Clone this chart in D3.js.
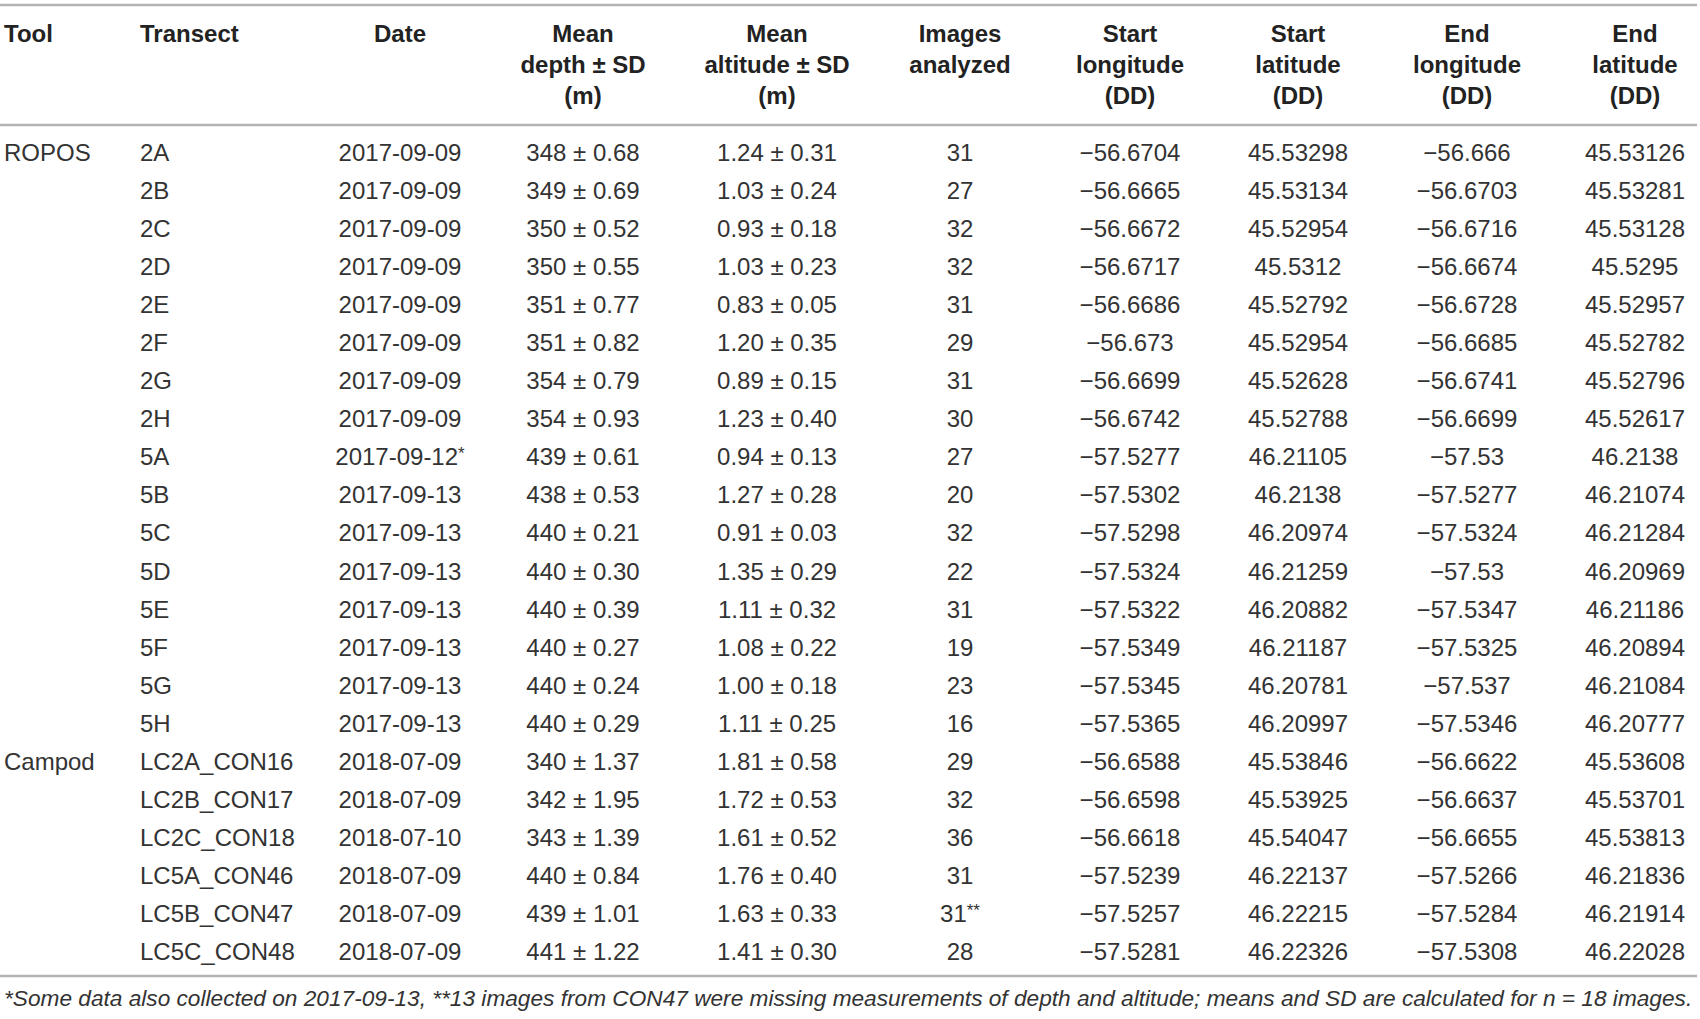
<!DOCTYPE html>
<html>
<head>
<meta charset="utf-8">
<script src="https://cdn.jsdelivr.net/npm/d3@7"></script>
<style>
  html, body { margin: 0; padding: 0; background: #fff; }
  svg { display: block; }
</style>
</head>
<body>
<div id="table"></div>
<script>
// data, one array per column
const tools = ["ROPOS", "", "", "", "", "", "", "", "", "", "", "", "", "", "", "",
               "Campod", "", "", "", "", ""];
const transects = ["2A", "2B", "2C", "2D", "2E", "2F", "2G", "2H",
                   "5A", "5B", "5C", "5D", "5E", "5F", "5G", "5H",
                   "LC2A_CON16", "LC2B_CON17", "LC2C_CON18", "LC5A_CON46", "LC5B_CON47", "LC5C_CON48"];
const dates = ["2017-09-09", "2017-09-09", "2017-09-09", "2017-09-09", "2017-09-09", "2017-09-09",
               "2017-09-09", "2017-09-09", "2017-09-12*", "2017-09-13", "2017-09-13", "2017-09-13",
               "2017-09-13", "2017-09-13", "2017-09-13", "2017-09-13",
               "2018-07-09", "2018-07-09", "2018-07-10", "2018-07-09", "2018-07-09", "2018-07-09"];
const depthMean = [348, 349, 350, 350, 351, 351, 354, 354, 439, 438, 440, 440, 440, 440, 440, 440,
                   340, 342, 343, 440, 439, 441];
const depthSD = ["0.68", "0.69", "0.52", "0.55", "0.77", "0.82", "0.79", "0.93",
                 "0.61", "0.53", "0.21", "0.30", "0.39", "0.27", "0.24", "0.29",
                 "1.37", "1.95", "1.39", "0.84", "1.01", "1.22"];
const altMean = ["1.24", "1.03", "0.93", "1.03", "0.83", "1.20", "0.89", "1.23",
                 "0.94", "1.27", "0.91", "1.35", "1.11", "1.08", "1.00", "1.11",
                 "1.81", "1.72", "1.61", "1.76", "1.63", "1.41"];
const altSD = ["0.31", "0.24", "0.18", "0.23", "0.05", "0.35", "0.15", "0.40",
               "0.13", "0.28", "0.03", "0.29", "0.32", "0.22", "0.18", "0.25",
               "0.58", "0.53", "0.52", "0.40", "0.33", "0.30"];
const images = ["31", "27", "32", "32", "31", "29", "31", "30", "27", "20", "32", "22", "31", "19", "23", "16",
                "29", "32", "36", "31", "31**", "28"];
const startLon = ["56.6704", "56.6665", "56.6672", "56.6717", "56.6686", "56.673", "56.6699", "56.6742",
                  "57.5277", "57.5302", "57.5298", "57.5324", "57.5322", "57.5349", "57.5345", "57.5365",
                  "56.6588", "56.6598", "56.6618", "57.5239", "57.5257", "57.5281"];
const startLat = ["45.53298", "45.53134", "45.52954", "45.5312", "45.52792", "45.52954", "45.52628", "45.52788",
                  "46.21105", "46.2138", "46.20974", "46.21259", "46.20882", "46.21187", "46.20781", "46.20997",
                  "45.53846", "45.53925", "45.54047", "46.22137", "46.22215", "46.22326"];
const endLon = ["56.666", "56.6703", "56.6716", "56.6674", "56.6728", "56.6685", "56.6741", "56.6699",
                "57.53", "57.5277", "57.5324", "57.53", "57.5347", "57.5325", "57.537", "57.5346",
                "56.6622", "56.6637", "56.6655", "57.5266", "57.5284", "57.5308"];
const endLat = ["45.53126", "45.53281", "45.53128", "45.5295", "45.52957", "45.52782", "45.52796", "45.52617",
                "46.2138", "46.21074", "46.21284", "46.20969", "46.21186", "46.20894", "46.21084", "46.20777",
                "45.53608", "45.53701", "45.53813", "46.21836", "46.21914", "46.22028"];

const headers = [
  ["Tool"], ["Transect"], ["Date"],
  ["Mean", "depth \u00b1 SD", "(m)"],
  ["Mean", "altitude \u00b1 SD", "(m)"],
  ["Images", "analyzed"],
  ["Start", "longitude", "(DD)"],
  ["Start", "latitude", "(DD)"],
  ["End", "longitude", "(DD)"],
  ["End", "latitude", "(DD)"]
];
const footnote = "*Some data also collected on 2017-09-13, **13 images from CON47 were missing measurements of depth and altitude; means and SD are calculated for n = 18 images.";

// layout
const width = 1700;
const height = 1019;
const fontFamily = "'Liberation Sans', Arial, Helvetica, sans-serif";

const svg = d3.select("#table")
  .append("svg")
  .attr("width", width)
  .attr("height", height)
  .style("font-family", fontFamily);

// column x: position + anchor
const colX = [4, 140, 400, 583, 777, 960, 1130, 1298, 1467, 1635];
const colAnchor = ["start", "start", "middle", "middle", "middle", "middle", "middle", "middle", "middle", "middle"];

const y = d3.scalePoint()
  .domain(d3.range(transects.length))
  .range([153, 952]);

const minus = s => "\u2212" + s;
const rows = transects.map((t, i) => [
  tools[i], t, dates[i],
  depthMean[i] + " \u00b1 " + depthSD[i],
  altMean[i] + " \u00b1 " + altSD[i],
  images[i],
  minus(startLon[i]), startLat[i], minus(endLon[i]), endLat[i]
]);

// rules
const rules = [5, 125, 976];
svg.selectAll(".rule")
  .data(rules)
  .enter()
  .append("line")
  .attr("class", "rule")
  .attr("x1", 0)
  .attr("x2", 1697)
  .attr("y1", d => d)
  .attr("y2", d => d)
  .attr("stroke", "#b3b3b3")
  .attr("stroke-width", 2.5);

// header
const headG = svg.append("g");
headers.forEach((lines, c) => {
  headG.selectAll(null)
    .data(lines)
    .enter()
    .append("text")
    .attr("x", colX[c])
    .attr("y", (d, k) => 42 + k * 31)
    .attr("text-anchor", colAnchor[c])
    .style("font-size", "24px")
    .style("font-weight", "bold")
    .style("fill", "#222")
    .text(d => d);
});

// body cells; trailing asterisks set small and raised
const bodyG = svg.append("g");
rows.forEach((cells, i) => {
  cells.forEach((val, c) => {
    if (!val) return;
    const m = val.match(/^(.*?)(\*+)$/);
    const t = bodyG.append("text")
      .attr("x", colX[c])
      .attr("y", y(i) + 8)
      .attr("text-anchor", colAnchor[c])
      .style("font-size", "24px")
      .style("fill", "#333");
    if (m) {
      t.append("tspan").text(m[1]);
      t.append("tspan")
        .attr("dy", -6)
        .style("font-size", "17px")
        .text(m[2]);
    } else {
      t.text(val);
    }
  });
});

// footnote, fitted to the table width
const foot = svg.append("text")
  .attr("x", 4)
  .attr("y", 1006)
  .style("font-size", "23px")
  .style("font-style", "italic")
  .style("fill", "#333")
  .text(footnote);
const fw = foot.node().getComputedTextLength();
foot.style("font-size", (23 * 1689 / fw).toFixed(2) + "px");
</script>
</body>
</html>
